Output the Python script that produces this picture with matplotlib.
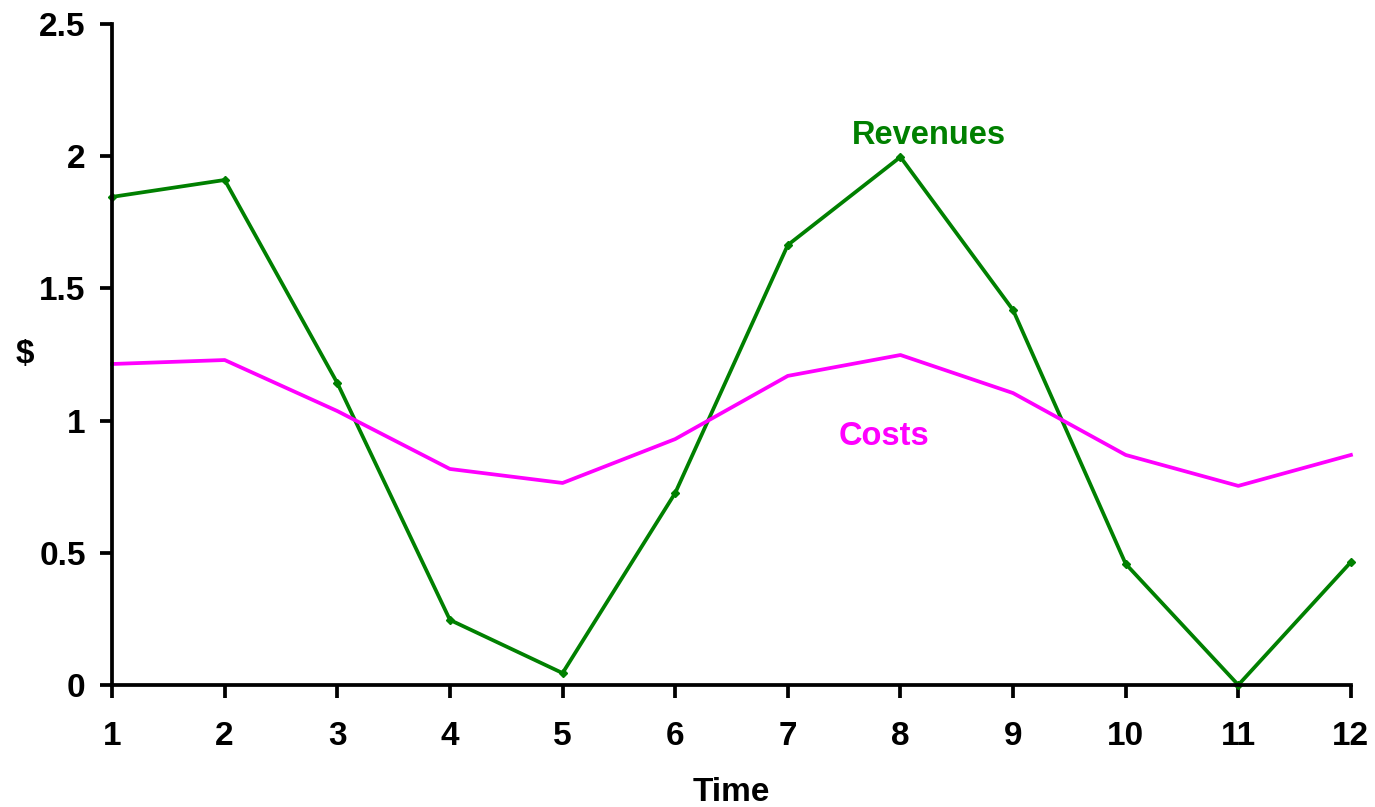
import matplotlib
matplotlib.use("Agg")
import matplotlib.pyplot as plt

time = [1, 2, 3, 4, 5, 6, 7, 8, 9, 10, 11, 12]
revenues = [1.846, 1.91, 1.142, 0.246, 0.045, 0.726, 1.664, 1.997, 1.418, 0.458, 0.0, 0.465]
costs = [1.214, 1.229, 1.036, 0.817, 0.764, 0.930, 1.169, 1.248, 1.104, 0.870, 0.753, 0.870]

plt.rcParams['font.family'] = ['Liberation Sans', 'DejaVu Sans']
plt.rcParams['font.weight'] = 'bold'

fig = plt.figure(figsize=(13.75, 8.07), dpi=100)
ax = fig.add_axes([0.0815, 0.1512, 0.901, 0.8191])

ax.plot(time, revenues, color='#008000', lw=2.7, marker='D', ms=4, clip_on=False)
ax.plot(time, costs, color='#FF00FF', lw=2.7, clip_on=False)

ax.text(8.25, 2.08, "Revenues", color='#008000', fontsize=23.5, fontweight='bold', ha='center', va='center')
ax.text(7.85, 0.94, "Costs", color='#FF00FF', fontsize=23.5, fontweight='bold', ha='center', va='center')

ax.set_xlim(1, 12)
ax.set_ylim(0, 2.5)
ax.set_xticks(time)
ax.set_yticks([0, 0.5, 1, 1.5, 2, 2.5])
ax.set_yticklabels(['0', '0.5', '1', '1.5', '2', '2.5'])

for side in ['top', 'right']:
    ax.spines[side].set_visible(False)
for side in ['left', 'bottom']:
    ax.spines[side].set_linewidth(2.7)

ax.tick_params(axis='both', direction='out', length=9, width=2.7, labelsize=24)
ax.tick_params(axis='x', pad=17)
ax.tick_params(axis='y', pad=10)
for lab in ax.get_xticklabels() + ax.get_yticklabels():
    lab.set_fontweight('bold')

ax.set_xlabel("Time", fontsize=24, fontweight='bold', va='center')
ax.xaxis.set_label_coords(0.5, -0.162)
ax.set_ylabel("$", fontsize=24, fontweight='bold', rotation=0, va='center')
ax.yaxis.set_label_coords(-0.07, 0.5)

fig.savefig("out.png", dpi=100)
